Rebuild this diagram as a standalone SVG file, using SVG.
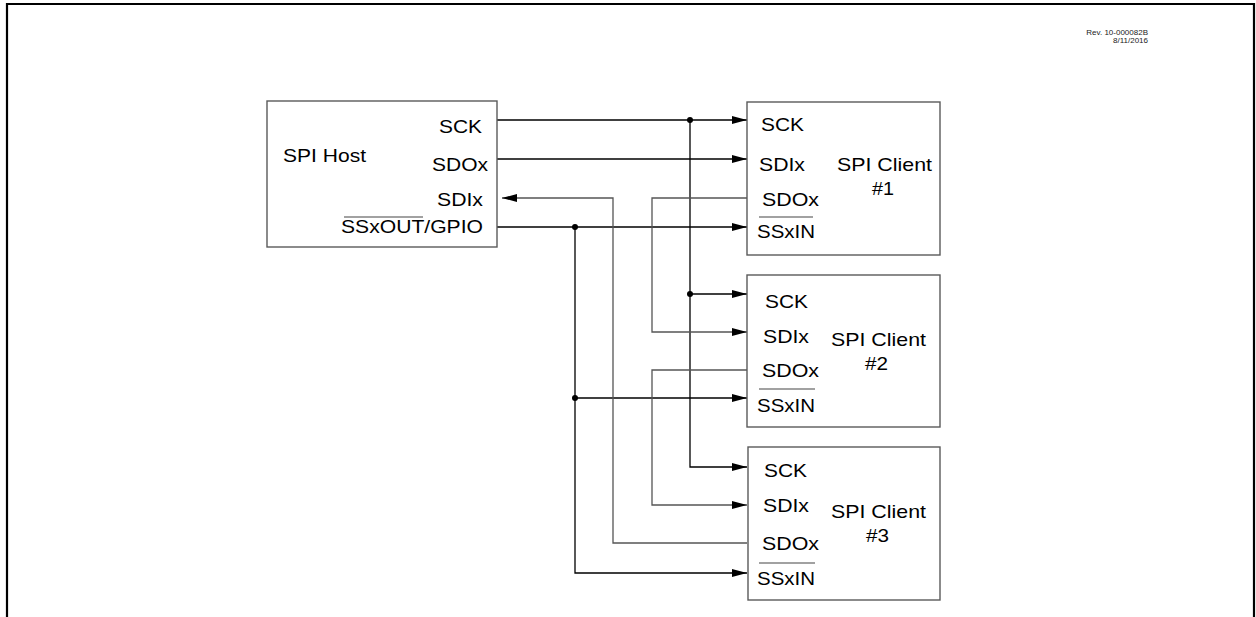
<svg xmlns="http://www.w3.org/2000/svg" width="1256" height="617" viewBox="0 0 1256 617">
<style>
.bg{fill:#ffffff}
.frame{fill:none;stroke:#000;stroke-width:2.2}
.box{fill:#ffffff;stroke:#5a5a5a;stroke-width:1.4}
.t{font-family:"Liberation Sans",Arial,sans-serif;font-size:19px;fill:#000}
.s{font-family:"Liberation Sans",Arial,sans-serif;font-size:8px;fill:#222}
.ov{stroke:#444;stroke-width:1.2}
.w{fill:none;stroke:#000;stroke-width:1.3}
.g{fill:none;stroke:#555;stroke-width:1.3}
.dot{fill:#000}
</style>
<defs>
<marker id="ah" markerUnits="userSpaceOnUse" markerWidth="16" markerHeight="9" refX="15" refY="4" orient="auto">
<path d="M0,0 L15,4 L0,8 z" fill="#000"/>
</marker>
</defs>
<rect class="bg" x="0" y="0" width="1256" height="617"/>
<polyline class="frame" points="7,617 7,4 1254,4 1254,617"/>
<text class="s" x="1148" y="35" text-anchor="end">Rev. 10-000082B</text>
<text class="s" x="1148" y="43" text-anchor="end">8/11/2016</text>

<g id="connectors">
<path class="w" d="M497,120 H747" marker-end="url(#ah)"/>
<path class="w" d="M497,159 H747" marker-end="url(#ah)"/>
<path class="w" d="M497,227 H747" marker-end="url(#ah)"/>
<path class="w" d="M690,120 V467 H747" marker-end="url(#ah)"/>
<path class="w" d="M690,294 H747" marker-end="url(#ah)"/>
<path class="w" d="M575,227 V573 H747" marker-end="url(#ah)"/>
<path class="w" d="M575,398 H747" marker-end="url(#ah)"/>
<path class="g" d="M747,198 H652 V332 H747" marker-end="url(#ah)"/>
<path class="g" d="M747,370 H652 V505 H747" marker-end="url(#ah)"/>
<path class="g" d="M747,543 H613 V198 H502" marker-end="url(#ah)"/>
<circle class="dot" cx="690" cy="120" r="3"/>
<circle class="dot" cx="575" cy="227" r="3"/>
<circle class="dot" cx="690" cy="294" r="3"/>
<circle class="dot" cx="575" cy="398" r="3"/>
</g>

<g id="host">
<rect class="box" x="267" y="101" width="230" height="146"/>
<text class="t" x="283" y="162" textLength="83" lengthAdjust="spacingAndGlyphs">SPI Host</text>
<text class="t" x="439" y="133" textLength="43" lengthAdjust="spacingAndGlyphs">SCK</text>
<text class="t" x="432" y="171" textLength="56" lengthAdjust="spacingAndGlyphs">SDOx</text>
<text class="t" x="437" y="206" textLength="46" lengthAdjust="spacingAndGlyphs">SDIx</text>
<line class="ov" x1="344" y1="217" x2="423" y2="217"/>
<text class="t" x="341" y="233" textLength="142" lengthAdjust="spacingAndGlyphs">SSxOUT/GPIO</text>
</g>

<g id="client1">
<rect class="box" x="747" y="102" width="193" height="153"/>
<text class="t" x="761" y="131" textLength="43" lengthAdjust="spacingAndGlyphs">SCK</text>
<text class="t" x="759" y="171" textLength="46" lengthAdjust="spacingAndGlyphs">SDIx</text>
<text class="t" x="762" y="206" textLength="57" lengthAdjust="spacingAndGlyphs">SDOx</text>
<line class="ov" x1="759" y1="217" x2="813" y2="217"/>
<text class="t" x="757" y="238" textLength="58" lengthAdjust="spacingAndGlyphs">SSxIN</text>
<text class="t" x="837" y="171" textLength="95" lengthAdjust="spacingAndGlyphs">SPI Client</text>
<text class="t" x="872" y="195" textLength="22" lengthAdjust="spacingAndGlyphs">#1</text>
</g>

<g id="client2">
<rect class="box" x="747" y="275" width="193" height="152"/>
<text class="t" x="765" y="308" textLength="43" lengthAdjust="spacingAndGlyphs">SCK</text>
<text class="t" x="763" y="343" textLength="46" lengthAdjust="spacingAndGlyphs">SDIx</text>
<text class="t" x="762" y="377" textLength="57" lengthAdjust="spacingAndGlyphs">SDOx</text>
<line class="ov" x1="759" y1="389" x2="815" y2="389"/>
<text class="t" x="757" y="412" textLength="58" lengthAdjust="spacingAndGlyphs">SSxIN</text>
<text class="t" x="831" y="346" textLength="95" lengthAdjust="spacingAndGlyphs">SPI Client</text>
<text class="t" x="865" y="370" textLength="23" lengthAdjust="spacingAndGlyphs">#2</text>
</g>

<g id="client3">
<rect class="box" x="748" y="447" width="192" height="153"/>
<text class="t" x="764" y="477" textLength="43" lengthAdjust="spacingAndGlyphs">SCK</text>
<text class="t" x="763" y="512" textLength="46" lengthAdjust="spacingAndGlyphs">SDIx</text>
<text class="t" x="762" y="550" textLength="57" lengthAdjust="spacingAndGlyphs">SDOx</text>
<line class="ov" x1="759" y1="563" x2="815" y2="563"/>
<text class="t" x="757" y="585" textLength="58" lengthAdjust="spacingAndGlyphs">SSxIN</text>
<text class="t" x="831" y="518" textLength="95" lengthAdjust="spacingAndGlyphs">SPI Client</text>
<text class="t" x="866" y="542" textLength="23" lengthAdjust="spacingAndGlyphs">#3</text>
</g>
</svg>
